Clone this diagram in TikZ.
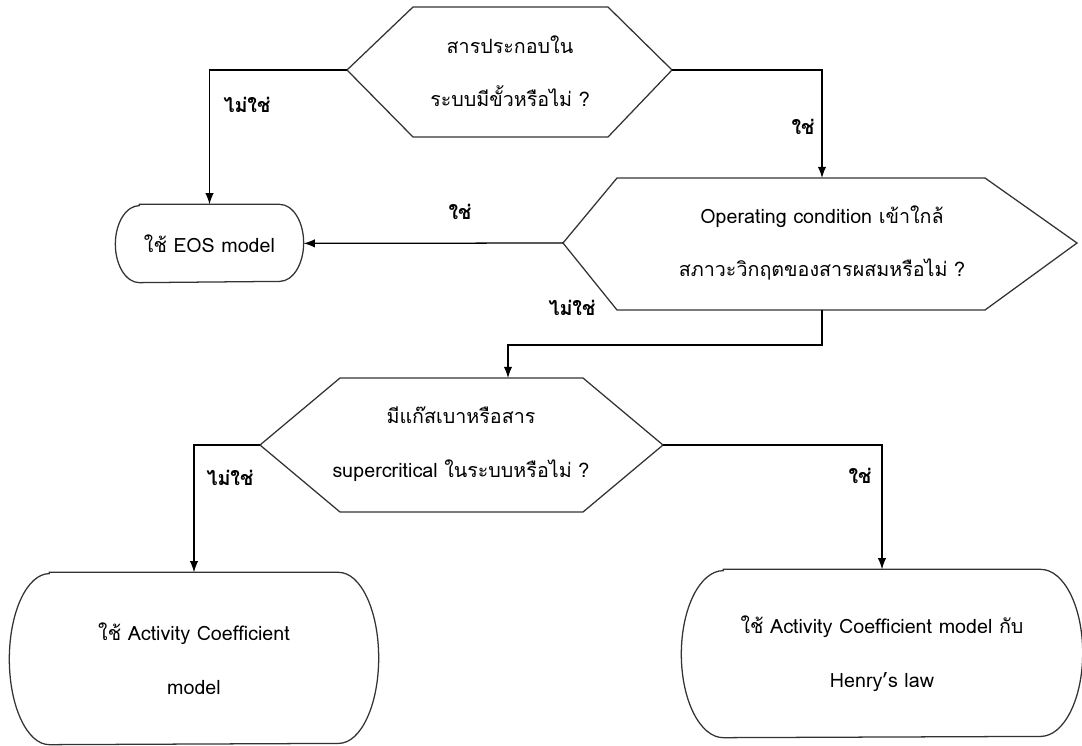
\documentclass[tikz,border=0pt]{standalone}
\usepackage{fontspec}
\setmainfont[Script=Thai]{Loma}
\usetikzlibrary{arrows.meta}
% outline with curved ends round a named node: node, x radius, y radius
\newcommand{\capsule}[3]{%
  \draw[boxline] ([xshift=#2]#1.north west) -- ([xshift=-#2]#1.north east)
    arc[start angle=90,end angle=-90,x radius=#2,y radius=#3]
    -- ([xshift=#2]#1.south west)
    arc[start angle=270,end angle=90,x radius=#2,y radius=#3] -- cycle;}
\begin{document}
\begin{tikzpicture}[x=0.025cm,y=-0.025cm,line width=0.9pt]
        \tikzstyle{decision}=[draw=black!80,line width=0.9pt,line join=miter]
        \tikzstyle{boxline}=[draw=black!80,line width=0.9pt]
        \tikzstyle{txt}=[align=center,font=\fontsize{14}{38}\selectfont]
        \tikzstyle{result}=[rectangle,align=center,inner sep=0pt,font=\fontsize{14}{38}\selectfont]
        \tikzstyle{yesno}=[font=\fontsize{14}{16}\selectfont\bfseries]
        \tikzstyle{edge}=[draw,-{Latex[length=8pt,width=6pt]}]
        \useasboundingbox (0,0) rectangle (1082,745);

        % decisions
        \draw[decision] (347,70) coordinate (q1w) -- (413,7) -- (608,7) -- (672,70) coordinate (q1e) -- (608,137) -- (413,137) -- cycle;
        \node[txt] (q1) at (510,71) {สารประกอบใน\\ระบบมีขั้วหรือไม่ ?};

        \draw[decision] (563,243) coordinate (q2w) -- (617,178) -- (985,178) -- (1077,243) -- (985,310) -- (617,310) -- cycle;
        \coordinate (q2n) at (822,178);
        \coordinate (q2s) at (822,310);
        \node[txt] (q2) at (822,243) {Operating condition เข้าใกล้\\สภาวะวิกฤตของสารผสมหรือไม่ ?};

        \draw[decision] (260,445) coordinate (q3w) -- (340,378) -- (583,378) -- (663,445) coordinate (q3e) -- (583,512) -- (340,512) -- cycle;
        \coordinate (q3n) at (508,378);
        \node[txt] (q3) at (461,444) {มีแก๊สเบาหรือสาร\\supercritical ในระบบหรือไม่ ?};

        % results
        \node[result,minimum width=4.675cm,minimum height=1.925cm] (eos) at (209.5,243.5) {ใช้ EOS model};
        \capsule{eos}{0.6cm}{0.9625cm}
        \node[result,minimum width=9.2cm,minimum height=4.275cm] (act) at (194,658.5) {ใช้ Activity Coefficient\\model};
        \capsule{act}{1cm}{2.1375cm}
        \node[result,minimum width=10cm,minimum height=4.175cm] (henry) at (882,653.5) {ใช้ Activity Coefficient model กับ\\Henry's law};
        \capsule{henry}{1.05cm}{2.0875cm}

        % connectors
        \path[edge] (q1w) -| (eos);
        \path[edge] (q1e) -| (q2n);
        \path[edge] (q2w) -- (eos);
        \path[edge] (q2s) -- ++(0,35) -| (q3n);
        \path[edge] (q3w) -| (act);
        \path[edge] (q3e) -| (henry);

        % labels
        \node[yesno] (n1) at (247,105) {ไม่ใช่};
        \node[yesno] (y1) at (803,127) {ใช่};
        \node[yesno] (y2) at (460,212) {ใช่};
        \node[yesno] (n2) at (572,308) {ไม่ใช่};
        \node[yesno] (n3) at (230,478) {ไม่ใช่};
        \node[yesno] (y3) at (860,476) {ใช่};
\end{tikzpicture}
\end{document}
